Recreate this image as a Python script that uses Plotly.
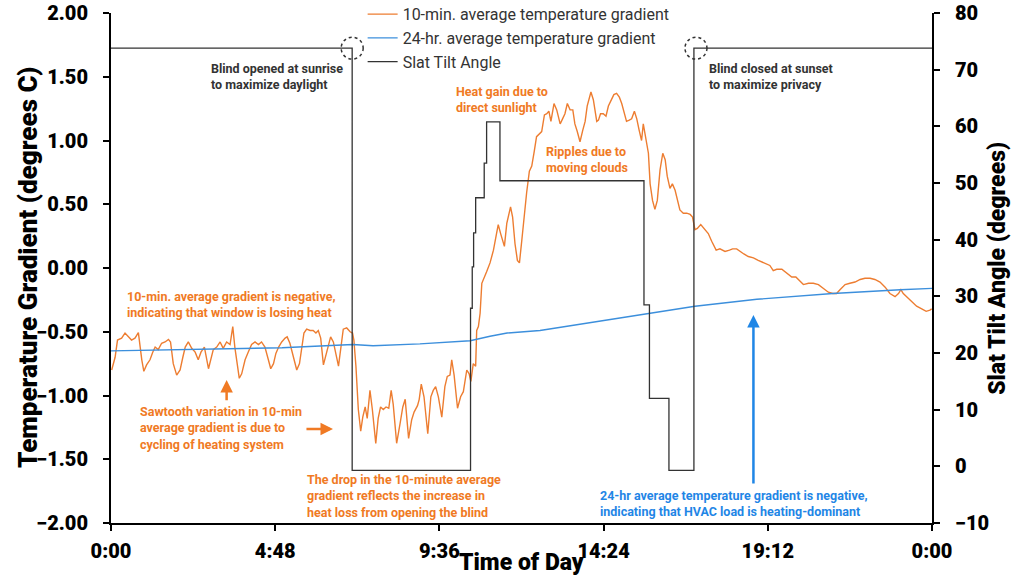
import plotly.graph_objects as go

# ---- data (time in hours since midnight) ----
t_10min = [0.02, 0.12, 0.19, 0.31, 0.41, 0.51, 0.60, 0.70, 0.80, 0.90,
           0.96, 1.04, 1.14, 1.22, 1.29, 1.38, 1.48, 1.58, 1.68, 1.74,
           1.82, 1.92, 2.02, 2.10, 2.17, 2.26, 2.36, 2.46, 2.55, 2.63,
           2.73, 2.85, 2.91, 2.99, 3.09, 3.19, 3.28, 3.38, 3.48, 3.56,
           3.62, 3.69, 3.75, 3.82, 3.92, 4.01, 4.11, 4.21, 4.31, 4.40,
           4.50, 4.60, 4.67, 4.75, 4.82, 4.90, 4.99, 5.09, 5.15, 5.23,
           5.33, 5.43, 5.51, 5.57, 5.64, 5.72, 5.82, 5.91, 5.99, 6.06,
           6.13, 6.21, 6.29, 6.35, 6.42, 6.50, 6.58, 6.65,
           6.79, 6.89, 6.99, 7.06, 7.10, 7.16, 7.23, 7.30, 7.36, 7.43,
           7.49, 7.57, 7.64, 7.74, 7.81, 7.88, 7.96, 8.04, 8.12, 8.19,
           8.25, 8.35, 8.45, 8.53, 8.60, 8.70, 8.79, 8.86, 8.96, 9.01,
           9.07, 9.15, 9.26, 9.35, 9.42, 9.49, 9.57, 9.67, 9.76, 9.83,
           9.91, 9.96, 10.03, 10.13, 10.22, 10.30, 10.40, 10.47, 10.52, 10.59,
           10.66,
           10.69, 10.74, 10.79, 10.84, 10.88, 10.98, 11.08, 11.18, 11.27, 11.32,
           11.39, 11.45, 11.50, 11.57, 11.63, 11.68, 11.74, 11.81, 11.88, 11.94,
           12.01, 12.07, 12.15, 12.23, 12.30, 12.37, 12.44,
           12.59, 12.67, 12.74, 12.80, 12.86, 12.95, 13.03, 13.13, 13.20, 13.27,
           13.34, 13.42, 13.50, 13.56, 13.63, 13.71, 13.79, 13.86, 13.92, 14.03,
           14.10, 14.20, 14.25, 14.31, 14.39, 14.47, 14.54, 14.62, 14.70, 14.78,
           14.86, 14.93, 15.00, 15.07, 15.15, 15.22, 15.30, 15.37, 15.44, 15.51,
           15.56, 15.63, 15.71,
           15.76, 15.83, 15.90, 15.97, 16.05, 16.13, 16.20, 16.26, 16.34, 16.41,
           16.49, 16.56, 16.63, 16.73, 16.83, 16.93, 17.00, 17.07, 17.14, 17.24,
           17.34, 17.46, 17.56, 17.69, 17.80, 17.95, 18.08, 18.17, 18.29, 18.39,
           18.50, 18.63, 18.78, 18.92, 19.09, 19.26, 19.36, 19.46, 19.61, 19.75,
           19.90, 20.02, 20.16, 20.24, 20.39, 20.53, 20.68, 20.82, 20.97, 21.10,
           21.21, 21.31, 21.46, 21.60, 21.75, 21.90, 22.04, 22.19, 22.33, 22.48,
           22.63, 22.77, 22.92, 23.02, 23.09, 23.16, 23.26, 23.41, 23.55, 23.70,
           23.83, 23.94, 23.99]
grad_10min = [-0.80, -0.70, -0.565, -0.55, -0.51, -0.54, -0.565, -0.55, -0.507, -0.72,
              -0.81, -0.76, -0.72, -0.66, -0.62, -0.64, -0.59, -0.58, -0.56, -0.58,
              -0.75, -0.84, -0.80, -0.70, -0.62, -0.58, -0.63, -0.66, -0.72, -0.66,
              -0.62, -0.79, -0.72, -0.64, -0.62, -0.58, -0.63, -0.58, -0.60, -0.46,
              -0.62, -0.77, -0.865, -0.83, -0.72, -0.66, -0.60, -0.58, -0.60, -0.58,
              -0.62, -0.72, -0.79, -0.75, -0.67, -0.62, -0.58, -0.55, -0.54, -0.59,
              -0.70, -0.80, -0.75, -0.62, -0.51, -0.48, -0.49, -0.49, -0.51, -0.49,
              -0.55, -0.76, -0.68, -0.60, -0.54, -0.58, -0.67, -0.77,
              -0.48, -0.47, -0.50, -0.51, -0.565, -0.77, -1.11, -1.28, -1.17, -1.09,
              -1.18, -0.96, -1.11, -1.375, -1.18, -1.09, -1.11, -1.09, -1.10, -0.96,
              -1.07, -1.375, -1.22, -1.09, -1.03, -1.336, -1.19, -1.13, -1.08, -1.03,
              -0.91, -1.01, -1.30, -1.01, -0.96, -0.93, -1.01, -1.17, -0.93, -0.85,
              -0.84, -0.72, -0.84, -1.10, -1.01, -0.97, -0.80, -0.83, -0.89, -0.75,
              -0.77,
              -0.49, -0.46, -0.355, -0.12, -0.09, -0.03, 0.04, 0.14, 0.27, 0.34,
              0.27, 0.22, 0.17, 0.35, 0.43, 0.48, 0.40, 0.19, 0.06, 0.04,
              0.22, 0.40, 0.59, 0.76, 0.80, 0.91, 1.03,
              1.07, 1.20, 1.21, 1.23, 1.15, 1.29, 1.24, 1.13, 1.17, 1.21,
              1.29, 1.24, 1.24, 1.13, 1.07, 0.99, 1.08, 1.15, 1.27, 1.38,
              1.32, 1.15, 1.16, 1.21, 1.21, 1.19, 1.27, 1.32, 1.36, 1.37,
              1.34, 1.29, 1.21, 1.15, 1.16, 1.17, 1.23, 1.17, 1.08, 1.00,
              1.13, 1.03, 0.90,
              0.66, 0.53, 0.46, 0.53, 0.77, 0.90, 0.85, 0.72, 0.625, 0.66,
              0.61, 0.52, 0.455, 0.43, 0.43, 0.42, 0.40, 0.30, 0.31, 0.34,
              0.31, 0.27, 0.21, 0.14, 0.15, 0.13, 0.14, 0.15, 0.15, 0.13,
              0.11, 0.09, 0.08, 0.06, 0.04, 0.02, -0.02, -0.01, -0.01, -0.04,
              -0.07, -0.07, -0.11, -0.13, -0.12, -0.12, -0.13, -0.16, -0.19, -0.20,
              -0.20, -0.17, -0.13, -0.12, -0.11, -0.09, -0.08, -0.08, -0.09, -0.11,
              -0.15, -0.20, -0.225, -0.20, -0.17, -0.20, -0.225, -0.265, -0.30, -0.32,
              -0.34, -0.33, -0.32]

t_24hr = [0, 2.6, 5.0, 7.07, 7.66, 9.03, 10.5, 11.08, 11.58, 12.54,
          13.71, 15.66, 17.07, 18.88, 21.1, 23.07, 24]
grad_24hr = [-0.65, -0.635, -0.625, -0.60, -0.61, -0.595, -0.57, -0.535, -0.51, -0.49,
             -0.44, -0.355, -0.30, -0.245, -0.20, -0.17, -0.16]

t_slat = [0, 7.05, 10.51, 10.56, 10.60, 10.66, 10.91, 10.98, 11.37, 15.58,
          15.74, 16.31, 17.04, 24]
slat_angle = [73.8, -0.7, 27.9, 35.2, 41.2, 47.4, 53.5, 60.8, 50.4, 28.5,
              12.0, -0.7, 73.8, 73.8]

tick_hours = [0, 4.8, 9.6, 14.4, 19.2, 24]
tick_text = ['0:00', '4:48', '9:36', '14:24', '19:12', '0:00']

assert len(t_10min) == len(grad_10min)

ORANGE = '#ED7D31'
ORANGE_TXT = '#F07A24'
BLUE = '#3C8FDC'
BLUE_TXT = '#1F86E6'
DARK = '#333333'
FONT = 'Roboto'

trace1 = go.Scatter(x=t_10min, y=grad_10min, mode='lines',
                    name='10-min. average temperature gradient',
                    line=dict(color=ORANGE, width=1.4))
trace2 = go.Scatter(x=t_24hr, y=grad_24hr, mode='lines',
                    name='24-hr. average temperature gradient',
                    line=dict(color=BLUE, width=1.4))
trace3 = go.Scatter(x=t_slat, y=slat_angle, mode='lines', yaxis='y2',
                    name='Slat Tilt Angle',
                    line=dict(color=DARK, width=1.3, shape='hv'))

axis_common = dict(showline=True, linecolor='black', linewidth=2, showgrid=False,
                   zeroline=False, ticks='outside', ticklen=6, tickwidth=2,
                   tickcolor='black', automargin=False,
                   tickfont=dict(family=FONT, size=20, color='black', weight=900))

layout = dict(
    width=1024, height=576,
    margin=dict(l=111, r=92, t=13, b=53, autoexpand=False),
    plot_bgcolor='white', paper_bgcolor='white',
    font=dict(family=FONT, color=DARK),
    xaxis=dict(range=[0, 24], tickvals=tick_hours, ticktext=tick_text,
               ticklabelstandoff=3, **axis_common),
    yaxis=dict(range=[-2, 2], dtick=0.5, tickformat='.2f',
               ticklabelstandoff=11, **axis_common),
    yaxis2=dict(range=[-10, 80], dtick=10, overlaying='y', side='right',
                ticklabelstandoff=11, **axis_common),
    legend=dict(x=0.3065, y=1.031, xanchor='left', yanchor='top',
                bgcolor='rgba(0,0,0,0)', font=dict(family=FONT, size=16, color=DARK),
                itemwidth=30, tracegroupgap=0),
    showlegend=True,
)

fig = go.Figure(data=[trace1, trace2, trace3], layout=layout)

# axis titles
fig.add_annotation(text='Temperature Gradient (degrees C)', xref='paper', yref='paper',
                   x=-0.101, y=0.5, xanchor='center', yanchor='middle',
                   textangle=-90, showarrow=False,
                   font=dict(family=FONT, size=26, color='black', weight=900))
fig.add_annotation(text='Slat Tilt Angle (degrees)', xref='paper', yref='paper',
                   x=1.079, y=0.5, xanchor='center', yanchor='middle',
                   textangle=-90, showarrow=False,
                   font=dict(family=FONT, size=23, color='black', weight=900))
fig.add_annotation(text='Time of Day', xref='paper', yref='paper',
                   x=0.4994, y=-0.078, xanchor='center', yanchor='middle',
                   showarrow=False,
                   font=dict(family=FONT, size=23, color='black', weight=900))

# text notes
notes = [
    ('Blind opened at sunrise<br>to maximize daylight', 2.86, 1.50, DARK),
    ('Blind closed at sunset<br>to maximize privacy', 17.41, 1.50, DARK),
    ('Heat gain due to<br>direct sunlight', 10.03, 1.318, ORANGE_TXT),
    ('Ripples due to<br>moving clouds', 12.67, 0.851, ORANGE_TXT),
    ('10-min. average gradient is negative,<br>indicating that window is losing heat', 0.41, -0.29, ORANGE_TXT),
    ('Sawtooth variation in 10-min<br>average gradient is due to<br>cycling of heating system', 0.79, -1.255, ORANGE_TXT),
    ('The drop in the 10-minute average<br>gradient reflects the increase in<br>heat loss from opening the blind', 5.67, -1.79, ORANGE_TXT),
    ('24-hr average temperature gradient is negative,<br>indicating that HVAC load is heating-dominant', 14.24, -1.85, BLUE_TXT),
]
for txt, xx, yy, col in notes:
    fig.add_annotation(text=txt, x=xx, y=yy, xref='x', yref='y', xanchor='left',
                       yanchor='middle', align='left', showarrow=False,
                       font=dict(family=FONT, size=12.5, color=col, weight='bold'))

# arrows
arrows = [
    (3.38, -0.878, 3.38, -1.049, ORANGE_TXT),
    (6.49, -1.263, 5.67, -1.263, ORANGE_TXT),
    (18.78, -0.369, 18.78, -1.702, BLUE_TXT),
]
for hx, hy, tx, ty, col in arrows:
    fig.add_annotation(x=hx, y=hy, ax=tx, ay=ty, xref='x', yref='y', axref='x', ayref='y',
                       text='', showarrow=True, arrowhead=2, arrowsize=1,
                       arrowwidth=2.5, arrowcolor=col)

# dotted circles at the blind open / close corners
for cx in [7.05, 17.1]:
    fig.add_shape(type='circle', xref='x', yref='y2', xsizemode='pixel', ysizemode='pixel',
                  xanchor=cx, yanchor=73.8, x0=-11, x1=11, y0=-11, y1=11,
                  line=dict(color=DARK, width=1.5, dash='dot'))

# drop the default page margin so the figure sits at the window's corner
fig.write_html("out.html", config={'displayModeBar': False},
               post_script="document.body.style.margin='0';")
